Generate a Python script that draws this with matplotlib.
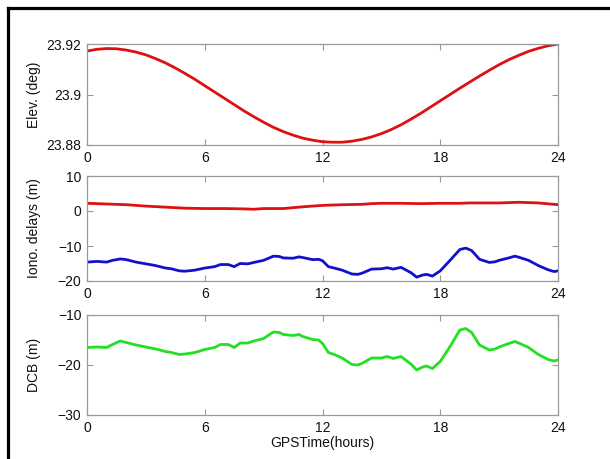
import matplotlib
matplotlib.use("Agg")
import matplotlib.pyplot as plt
from matplotlib.lines import Line2D

plt.rcParams['font.family'] = ['Liberation Sans', 'DejaVu Sans']

# Satellite elevation (deg), half-hourly
elev_t = [0, 0.5, 1, 1.5, 2, 2.5, 3, 3.5, 4, 4.5, 5, 5.5, 6, 6.5, 7, 7.5, 8, 8.5,
          9, 9.5, 10, 10.5, 11, 11.5, 12, 12.5, 13, 13.5, 14, 14.5, 15, 15.5, 16,
          16.5, 17, 17.5, 18, 18.5, 19, 19.5, 20, 20.5, 21, 21.5, 22, 22.5, 23, 23.5, 24]
elev = [23.9172, 23.9179, 23.9182, 23.9181, 23.9176, 23.9168, 23.9157, 23.9142,
        23.9125, 23.9105, 23.9083, 23.9060, 23.9035, 23.9010, 23.8985, 23.8960,
        23.8935, 23.8912, 23.8890, 23.8870, 23.8853, 23.8839, 23.8827, 23.8819,
        23.8813, 23.8811, 23.8811, 23.8815, 23.8822, 23.8832, 23.8845, 23.8861,
        23.8880, 23.8902, 23.8925, 23.8950, 23.8975, 23.9000, 23.9025, 23.9049,
        23.9073, 23.9096, 23.9118, 23.9138, 23.9155, 23.9171, 23.9183, 23.9193, 23.9200]

# Ionospheric delays (m): upper (red) and lower (blue) series
iono_red_t = [0, 0.5, 1, 2, 3, 4, 5, 6, 7, 8, 8.5, 9, 10, 11, 12, 13, 14, 14.5, 15,
              16, 17, 18, 19, 19.5, 20, 21, 22, 23, 24]
iono_red = [2.2, 2.1, 2.0, 1.8, 1.4, 1.1, 0.8, 0.7, 0.7, 0.6, 0.5, 0.7, 0.7, 1.2,
            1.6, 1.8, 1.9, 2.1, 2.2, 2.2, 2.1, 2.2, 2.2, 2.3, 2.3, 2.3, 2.5, 2.3, 1.8]

iono_blue_t = [0, 0.5, 1, 1.3, 1.7, 2, 2.5, 3, 3.5, 4, 4.3, 4.7, 5, 5.5, 6, 6.5,
               6.8, 7.2, 7.5, 7.8, 8.2, 8.5, 9, 9.5, 9.8, 10, 10.5, 10.8, 11, 11.5,
               11.8, 12, 12.3, 12.6, 13, 13.5, 13.8, 14, 14.5, 15, 15.3, 15.6, 16,
               16.5, 16.8, 17.1, 17.3, 17.6, 18, 18.5, 19, 19.3, 19.6, 20, 20.5,
               20.8, 21, 21.5, 21.8, 22, 22.5, 23, 23.5, 23.8, 24]
iono_blue = [-14.6, -14.4, -14.6, -14.1, -13.7, -13.9, -14.6, -15.1, -15.6, -16.3,
             -16.5, -17.1, -17.2, -16.9, -16.3, -15.9, -15.3, -15.3, -15.9, -15.0,
             -15.1, -14.7, -14.1, -12.9, -13.0, -13.4, -13.5, -13.1, -13.3, -13.9,
             -13.8, -14.2, -15.9, -16.3, -16.9, -18.0, -18.1, -17.8, -16.6, -16.5,
             -16.2, -16.6, -16.1, -17.6, -18.9, -18.3, -18.1, -18.6, -17.1, -14.1,
             -11.0, -10.6, -11.3, -13.8, -14.7, -14.5, -14.1, -13.4, -12.9, -13.2,
             -14.1, -15.6, -16.8, -17.3, -17.1]

# Differential code bias (m)
dcb_t = [0, 0.5, 1, 1.3, 1.7, 2, 2.5, 3, 3.5, 4, 4.3, 4.7, 5, 5.5, 6, 6.5,
         6.8, 7.2, 7.5, 7.8, 8.2, 8.5, 9, 9.5, 9.8, 10, 10.5, 10.8, 11, 11.5,
         11.8, 12, 12.3, 12.6, 13, 13.5, 13.8, 14, 14.5, 15, 15.3, 15.6, 16,
         16.5, 16.8, 17.1, 17.3, 17.6, 18, 18.5, 19, 19.3, 19.6, 20, 20.5,
         20.8, 21, 21.5, 21.8, 22, 22.5, 23, 23.5, 23.8, 24]
dcb = [-16.5, -16.4, -16.5, -15.9, -15.2, -15.5, -16.0, -16.4, -16.8, -17.3,
       -17.5, -17.9, -17.8, -17.5, -16.9, -16.5, -15.9, -15.9, -16.5, -15.6,
       -15.6, -15.2, -14.7, -13.4, -13.5, -13.9, -14.1, -13.9, -14.3, -14.9,
       -15.0, -15.7, -17.5, -17.9, -18.6, -19.9, -20.0, -19.7, -18.6, -18.6,
       -18.3, -18.7, -18.3, -19.8, -21.0, -20.4, -20.2, -20.7, -19.3, -16.3,
       -13.0, -12.7, -13.5, -16.0, -17.0, -16.8, -16.4, -15.7, -15.3, -15.6,
       -16.5, -17.9, -18.9, -19.2, -19.0]

x_ticks = [0, 6, 12, 18, 24]

RED = '#dd1111'
BLUE = '#1111cc'
GREEN = '#22e022'
LW = 2.0

W, H = 610, 459
fig = plt.figure(figsize=(W / 100, H / 100), dpi=100)
fig.patch.set_facecolor('white')


def make_axes(top, bottom):
    left, right = 87, 558
    return fig.add_axes([left / W, 1 - bottom / H, (right - left) / W, (bottom - top) / H])


def style(ax, yticks, ylim, ylabel, yticklabels=None):
    ax.set_xlim(0, 24)
    ax.set_ylim(*ylim)
    ax.set_xticks(x_ticks)
    ax.set_yticks(yticks)
    if yticklabels is not None:
        ax.set_yticklabels(yticklabels)
    ax.tick_params(direction='in', length=4, width=0.8, colors='#999999',
                   labelcolor='#111111', labelsize=10, top=True, right=True, pad=4)
    for s in ax.spines.values():
        s.set_color('#9a9a9a')
        s.set_linewidth(0.9)
    ax.set_ylabel(ylabel, fontsize=10, color='#111111')
    ax.yaxis.set_label_coords(-0.097, 0.5)


ax1 = make_axes(44, 145)
ax1.plot(elev_t, elev, color=RED, lw=LW)
style(ax1, [23.88, 23.9, 23.92], (23.88, 23.92), 'Elev. (deg)',
      ['23.88', '23.9', '23.92'])

ax2 = make_axes(176, 281)
ax2.plot(iono_red_t, iono_red, color=RED, lw=LW)
ax2.plot(iono_blue_t, iono_blue, color=BLUE, lw=LW)
style(ax2, [-20, -10, 0, 10], (-20, 10), 'Iono. delays (m)')

ax3 = make_axes(315, 415)
ax3.plot(dcb_t, dcb, color=GREEN, lw=LW)
style(ax3, [-30, -20, -10], (-30, -10), 'DCB (m)')
ax3.set_xlabel('GPSTime(hours)', fontsize=10, labelpad=1, color='#111111')

# Frame lines along the top and left edges of the figure
fig.add_artist(Line2D([8 / W, 1], [1 - 8 / H, 1 - 8 / H], color='black', lw=2.3,
                      transform=fig.transFigure))
fig.add_artist(Line2D([8 / W, 8 / W], [0, 1 - 8 / H], color='black', lw=2.3,
                      transform=fig.transFigure))

fig.savefig('out.png', dpi=100)
